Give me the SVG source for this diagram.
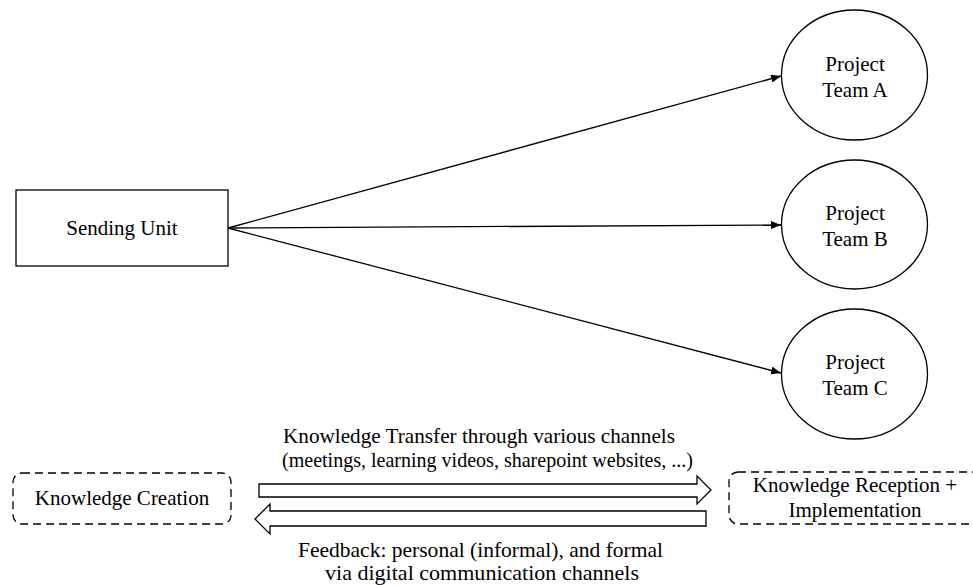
<svg xmlns="http://www.w3.org/2000/svg" width="973" height="585" viewBox="0 0 973 585">
<defs>
<style>
text{font-family:"Liberation Serif","Times New Roman",serif;font-size:21px;fill:#000;text-anchor:middle}
.n{fill:#fff;stroke:#000;stroke-width:1.3}
.d{fill:#fff;stroke:#000;stroke-width:1.3;stroke-dasharray:8 5}
.c{stroke:#000;stroke-width:1.3;fill:none}
.ba{fill:#fff;stroke:#000;stroke-width:1.3;stroke-linejoin:miter}
</style>
<marker id="ah" viewBox="0 0 10 8" refX="10" refY="4" markerWidth="10" markerHeight="8" markerUnits="userSpaceOnUse" orient="auto">
<path d="M0,0 L10,4 L0,8 Z" fill="#000"/>
</marker>
</defs>
<rect width="973" height="585" fill="#fff"/>
<g id="connectors">
<line class="c" x1="228" y1="228" x2="781" y2="76" marker-end="url(#ah)"/>
<line class="c" x1="228" y1="228" x2="781" y2="225" marker-end="url(#ah)"/>
<line class="c" x1="228" y1="228" x2="781" y2="373" marker-end="url(#ah)"/>
</g>
<g id="sending-unit">
<rect class="n" x="16" y="190" width="212" height="76"/>
<text x="122" y="235">Sending Unit</text>
</g>
<g id="team-a">
<ellipse class="n" cx="854.5" cy="75" rx="73" ry="65"/>
<text x="855" y="71">Project</text>
<text x="855" y="97">Team A</text>
</g>
<g id="team-b">
<ellipse class="n" cx="854.5" cy="224.5" rx="73" ry="64.5"/>
<text x="855" y="220">Project</text>
<text x="855" y="246">Team B</text>
</g>
<g id="team-c">
<ellipse class="n" cx="854.5" cy="374" rx="73" ry="65"/>
<text x="855" y="369">Project</text>
<text x="855" y="395">Team C</text>
</g>
<g id="knowledge-creation">
<rect class="d" x="13" y="473" width="218" height="51" rx="9"/>
<text x="122" y="505">Knowledge Creation</text>
</g>
<g id="knowledge-reception">
<rect class="d" x="729" y="472" width="252" height="52" rx="9"/>
<text x="855" y="492">Knowledge Reception +</text>
<text x="855" y="517">Implementation</text>
</g>
<g id="transfer-arrow">
<path class="ba" d="M259,484 L697,484 L697,476 L711,490 L697,504 L697,497 L259,497 Z"/>
<text x="479" y="443" textLength="392" lengthAdjust="spacingAndGlyphs">Knowledge Transfer through various channels</text>
<text x="487.5" y="467" textLength="411" lengthAdjust="spacingAndGlyphs">(meetings, learning videos, sharepoint websites, ...)</text>
</g>
<g id="feedback-arrow">
<path class="ba" d="M706,511 L270,511 L270,504 L255,519 L270,534 L270,526 L706,526 Z"/>
<text x="480.5" y="557" textLength="365" lengthAdjust="spacingAndGlyphs">Feedback: personal (informal), and formal</text>
<text x="482" y="580" textLength="314" lengthAdjust="spacingAndGlyphs">via digital communication channels</text>
</g>
</svg>
